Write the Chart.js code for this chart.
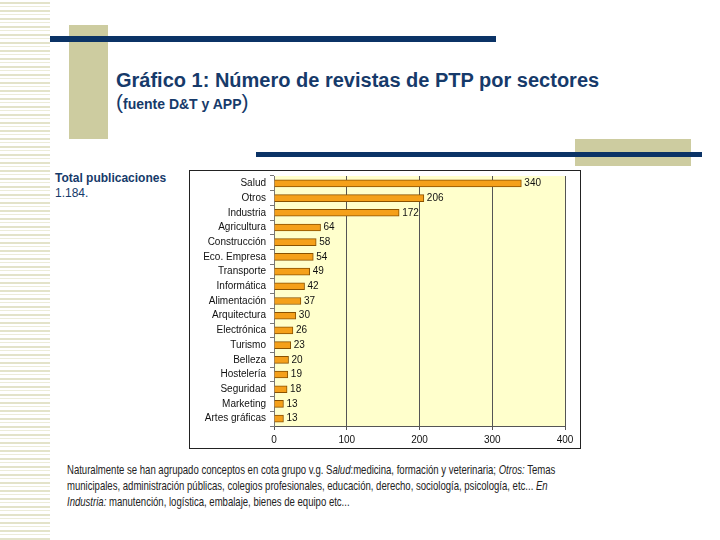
<!DOCTYPE html>
<html>
<head>
<meta charset="utf-8">
<script src="https://cdn.jsdelivr.net/npm/chart.js@4.4.0/dist/chart.umd.min.js"></script>
<style>
  html, body { margin: 0; padding: 0; background: #fff; }
  #page { position: relative; width: 720px; height: 540px; overflow: hidden; font-family: "Liberation Sans", Arial, sans-serif; }
  .abs { position: absolute; }
  #stripes { left: 0; top: 0; width: 50px; height: 540px;
    background: repeating-linear-gradient(to bottom, #fff 0px, #fff 2px, #e3e3c9 2px, #e3e3c9 4px, #fff 4px, #fff 6px, #ececd8 6px, #ececd8 7px, #fff 7px, #fff 8px); }
  #title { left: 116px; top: 69px; color: #163a6a; font-weight: bold; font-size: 20px; white-space: nowrap; }
  #sub { left: 116px; top: 90px; color: #163a6a; font-weight: bold; font-size: 14px; white-space: nowrap; }
  #sub .p { font-size: 21px; font-weight: normal; }
  #total { left: 55px; top: 171px; color: #163a6a; font-size: 12px; line-height: 15px; }
  #note { left: 67px; top: 462px; font-size: 13px; line-height: 16px; color: #222; white-space: nowrap;
    transform: scaleX(0.735); transform-origin: 0 0; }
  #box { left: 189px; top: 170px; width: 390px; height: 277px; border: 1px solid #222; }
</style>
</head>
<body>
<div id="page">
  <div class="abs" id="stripes"></div>
  <div class="abs" style="left:69px;top:25px;width:39px;height:114px;background:#cdcca0;"></div>
  <div class="abs" style="left:50px;top:36px;width:446px;height:6px;background:#0b3366;"></div>
  <div class="abs" style="left:575px;top:139px;width:116px;height:27px;background:#cdcca0;"></div>
  <div class="abs" style="left:256px;top:152px;width:446px;height:5px;background:#0b3366;"></div>
  <div class="abs" id="title">Gráfico 1: Número de revistas de PTP por sectores</div>
  <div class="abs" id="sub"><span class="p">(</span>fuente D&amp;T y APP<span class="p">)</span></div>
  <div class="abs" id="total"><b>Total publicaciones</b><br>1.184.</div>
  <div class="abs" id="box"><canvas id="chart" width="390" height="277"></canvas></div>
  <div class="abs" id="note">Naturalmente se han agrupado conceptos en cota grupo v.g. S<i>alud</i>:medicina, formación y veterinaria; <i>Otros:</i> Temas<br>municipales, administración públicas, colegios profesionales, educación, derecho, sociología, psicología, etc... <i>En</i><br><i>Industria:</i> manutención, logística, embalaje, bienes de equipo etc...</div>
</div>
<script>
// sectors and number of journals
const sectors = ['Salud', 'Otros', 'Industria', 'Agricultura', 'Construcción', 'Eco. Empresa', 'Transporte',
    'Informática', 'Alimentación', 'Arquitectura', 'Electrónica', 'Turismo', 'Belleza', 'Hostelería',
    'Seguridad', 'Marketing', 'Artes gráficas'];
const journals = [340, 206, 172, 64, 58, 54, 49, 42, 37, 30, 26, 23, 20, 19, 18, 13, 13];
const xTicks = [0, 100, 200, 300, 400];

// light yellow plot background
const plotBg = {
    id: 'plotBg',
    beforeDraw: function (chart) {
        const a = chart.chartArea;
        const ctx = chart.ctx;
        ctx.save();
        ctx.fillStyle = '#ffffcc';
        ctx.fillRect(a.left, a.top, a.right - a.left, a.bottom - a.top);
        ctx.restore();
    }
};

// value labels right of each bar
const barLabels = {
    id: 'barLabels',
    afterDatasetsDraw: function (chart) {
        const ctx = chart.ctx;
        const meta = chart.getDatasetMeta(0);
        ctx.save();
        ctx.font = '10px "Liberation Sans", Arial, sans-serif';
        ctx.fillStyle = '#111';
        ctx.textBaseline = 'middle';
        meta.data.forEach((bar, i) => {
            ctx.fillText(String(journals[i]), bar.x + 3, bar.y);
        });
        ctx.restore();
    }
};

new Chart(document.getElementById('chart'), {
    type: 'bar',
    data: {
        labels: sectors,
        datasets: [{
            data: journals,
            backgroundColor: '#f5a01a',
            borderColor: '#8a5200',
            borderWidth: 1,
            barThickness: 7
        }]
    },
    options: {
        indexAxis: 'y',
        responsive: false,
        animation: false,
        layout: { padding: { top: 5, right: 15, left: 0, bottom: 0 } },
        plugins: { legend: { display: false }, tooltip: { enabled: false } },
        scales: {
            x: {
                min: 0,
                max: 400,
                afterBuildTicks: function (scale) {
                    scale.ticks = xTicks.map(v => ({ value: v }));
                },
                afterFit: function (scale) { scale.height = 22; },
                grid: { color: '#555', lineWidth: 1, tickLength: 4, drawTicks: true },
                border: { color: '#555' },
                ticks: { color: '#111', font: { size: 10, family: '"Liberation Sans", Arial, sans-serif' }, padding: 4 }
            },
            y: {
                afterFit: function (scale) {
                    scale.width = 84;
                    scale.paddingTop = 0;
                    scale.paddingBottom = 0;
                },
                grid: { offset: true, drawOnChartArea: false, tickLength: 4, color: '#777' },
                border: { color: '#777' },
                ticks: { autoSkip: false, color: '#111', font: { size: 10, family: '"Liberation Sans", Arial, sans-serif' }, padding: 4 }
            }
        }
    },
    plugins: [plotBg, barLabels]
});
</script>
</body>
</html>
